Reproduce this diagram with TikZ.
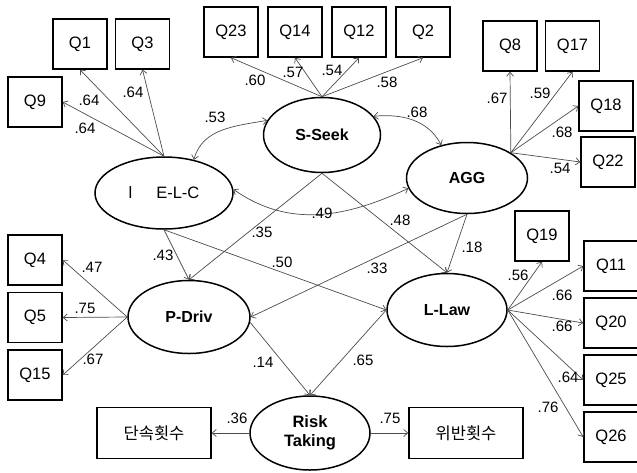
\documentclass[tikz,border=0pt]{standalone}
\usepackage{fontspec}
\setmainfont{Liberation Sans}
\newfontfamily\kofont{Noto Sans CJK KR}
\usetikzlibrary{shapes.geometric, arrows.meta, positioning}

\begin{document}
\begin{tikzpicture}[
    x=1pt, y=1pt,
    node distance=6pt and 7pt,
    item/.style={rectangle, draw, line width=1.5pt, minimum width=54pt, minimum height=50pt, inner sep=0pt, font=\fontsize{16.5}{19}\selectfont},
    latent/.style={ellipse, draw, line width=1.5pt, inner sep=0pt, align=center, font=\bfseries\fontsize{16}{18}\selectfont},
    line/.style={draw=black!70, line width=0.7pt, -{Straight Barb[length=4pt,width=7pt]}},
    both/.style={line, {Straight Barb[length=4pt,width=7pt]}-{Straight Barb[length=4pt,width=7pt]}},
    coef/.style={inner sep=1pt, font=\fontsize{15}{17}\selectfont}
]
\useasboundingbox (0,0) rectangle (637,-472);

% latent variables
\node [latent, minimum width=138pt, minimum height=72pt, font=\fontsize{16.5}{18}\selectfont] (elc) at (164,-193) {l\hspace{24pt}E-L-C};
\node [latent, minimum width=117pt, minimum height=75pt] (ss) at (322,-135) {S-Seek};
\node [latent, minimum width=121pt, minimum height=71pt] (agg) at (467,-178) {AGG};
\node [latent, minimum width=122pt, minimum height=73pt] (pd) at (189,-317) {P-Driv};
\node [latent, minimum width=120pt, minimum height=73pt] (ll) at (447,-310) {L-Law};
\node [latent, minimum width=120pt, minimum height=74pt, font=\bfseries\fontsize{16.5}{19}\selectfont] (rt) at (310,-433) {Risk\\Taking};

% indicators
\node [item] (q1) at (80,-44) {Q1};
\node [item, right=of q1] (q3) {Q3};
\node [item] (q9) at (35,-102) {Q9};
\node [item] (q23) at (231,-32) {Q23};
\node [item, right=8.5pt of q23] (q14) {Q14};
\node [item, right=8.5pt of q14] (q12) {Q12};
\node [item, right=8.5pt of q12] (q2) {Q2};
\node [item] (q8) at (510,-46) {Q8};
\node [item, right=of q8] (q17) {Q17};
\node [item] (q18) at (606,-106) {Q18};
\node [item] (q22) at (608,-162) {Q22};
\node [item] (q19) at (542,-236) {Q19};
\node [item] (q11) at (611,-266) {Q11};
\node [item, below=5.5pt of q11] (q20) {Q20};
\node [item, below=5.5pt of q20] (q25) {Q25};
\node [item, below=5.5pt of q25] (q26) {Q26};
\node [item] (q4) at (35,-260) {Q4};
\node [item, below=of q4] (q5) {Q5};
\node [item, below=of q5] (q15) {Q15};
\node [item, minimum width=114pt, minimum height=51pt, font=\kofont\fontsize{16.5}{19}\selectfont] (speed) at (154,-433) {단속횟수};
\node [item, minimum width=114pt, minimum height=51pt, font=\kofont\fontsize{16.5}{19}\selectfont] (viol) at (466,-433) {위반횟수};

% measurement paths
\path [line] (elc.north) -- (q1.south);
\path [line] (elc.north) -- (q3.south);
\path [line] (elc.north) -- (q9.east);
\path [line] (ss.north) -- (q23.south);
\path [line] (ss.north) -- (q14.south);
\path [line] (ss.north) -- (q12.south);
\path [line] (ss.north) -- (q2.south);
\path [line] (agg.30) -- (q8.south);
\path [line] (agg.30) -- (q17.south);
\path [line] (agg.30) -- (q18.west);
\path [line] (agg.30) -- (q22.west);
\path [line] (ll.east) -- (q19.south);
\path [line] (ll.east) -- (q11.west);
\path [line] (ll.east) -- (q20.west);
\path [line] (ll.east) -- (q25.west);
\path [line] (ll.east) -- (q26.west);
\path [line] (pd.west) -- (q4.east);
\path [line] (pd.west) -- (q5.east);
\path [line] (pd.west) -- (q15.east);
\path [line] (rt.west) -- (speed.east);
\path [line] (rt.east) -- (viol.west);

% structural paths
\path [line] (elc.south) -- (pd.north);
\path [line] (ss.south) -- (pd.north);
\path [line] (elc.south) -- (ll.west);
\path [line] (ss.south) -- (ll.north);
\path [line] (agg.south) -- (pd.east);
\path [line] (agg.south) -- (ll.north);
\path [line] (pd.-5) -- (rt.north);
\path [line] (ll.west) -- (rt.north);

% correlations
\path [both] (elc.48) to[out=75, in=190] (ss.165);
\path [both] (ss.20) to[out=5, in=118] (agg.128);
\path [both] (elc.3) to[out=-35, in=205] (agg.190);

% coefficients
\foreach \x/\y/\t [count=\i] in {89/100/.64, 133/92/.64, 85/128/.64, 255/80/.60, 293/72/.57, 332/70/.54, 387/82/.58, 215/117/.53, 417/112/.68, 497/98/.67, 540/93/.59, 562/132/.68, 560/168/.54, 322/213/.49, 400/220/.48, 472/247/.18, 377/268/.33, 262/232/.35, 163/255/.43, 282/262/.50, 92/267/.47, 85/308/.75, 93/359/.67, 263/362/.14, 363/360/.65, 237/418/.36, 390/418/.75, 518/275/.56, 562/295/.66, 562/326/.66, 568/377/.64, 548/407/.76}
    \node [coef] (c\i) at (\x,-\y) {\t};

\end{tikzpicture}
\end{document}
